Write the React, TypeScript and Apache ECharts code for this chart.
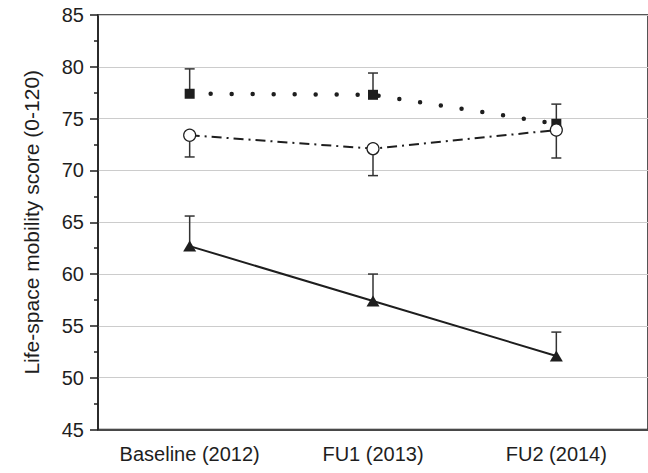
import React, { useEffect, useRef } from "react";
import * as echarts from "echarts";

const categories = ["Baseline (2012)", "FU1 (2013)", "FU2 (2014)"];
const squareMean = [77.4, 77.3, 74.5];
const squareUpper = [79.8, 79.4, 76.4];
const circleMean = [73.4, 72.1, 73.9];
const circleLower = [71.3, 69.5, 71.2];
const triangleMean = [62.7, 57.4, 52.1];
const triangleUpper = [65.6, 60.0, 54.4];
const yTicks = { min: 45, max: 85, interval: 5 };

const FONT = "Liberation Sans, Arial, sans-serif";
const INK = "#1e1e1e";

function errorSeries(mean: number[], end: number[]) {
  return {
    type: "custom",
    z: 1,
    silent: true,
    data: mean.map((m, i) => [i, m, end[i]]),
    renderItem: (_params: any, api: any) => {
      const p0 = api.coord([api.value(0), api.value(1)]);
      const p1 = api.coord([api.value(0), api.value(2)]);
      const hw = 5;
      return {
        type: "group",
        children: [
          {
            type: "line",
            shape: { x1: p0[0], y1: p0[1], x2: p1[0], y2: p1[1] },
            style: { stroke: "#333", lineWidth: 1.5 },
          },
          {
            type: "line",
            shape: { x1: p1[0] - hw, y1: p1[1], x2: p1[0] + hw, y2: p1[1] },
            style: { stroke: "#333", lineWidth: 1.5 },
          },
        ],
      };
    },
  };
}

export default function App() {
  const ref = useRef<HTMLDivElement>(null);
  useEffect(() => {
    document.body.style.margin = "0";
    const chart = echarts.init(ref.current!, null, { renderer: "svg" });
    chart.setOption({
      animation: false,
      backgroundColor: "#fff",
      grid: {
        left: 98,
        top: 15,
        right: -12,
        bottom: 43.5,
        show: true,
        borderColor: INK,
        borderWidth: 1.5,
        backgroundColor: "transparent",
      },
      xAxis: [
        {
          type: "category",
          data: categories,
          boundaryGap: true,
          position: "bottom",
          axisLine: { lineStyle: { color: INK, width: 1.5 } },
          axisTick: { alignWithLabel: true, length: 7, lineStyle: { color: INK, width: 1.5 } },
          axisLabel: { color: INK, fontSize: 20, fontFamily: FONT, margin: 14 },
          splitLine: { show: false },
        },
        {
          type: "category",
          data: categories,
          boundaryGap: true,
          position: "bottom",
          offset: 0,
          axisLine: { show: false },
          axisTick: { length: 4, lineStyle: { color: INK, width: 1.5 } },
          axisLabel: { show: false },
          splitLine: { show: false },
        },
      ],
      yAxis: {
        type: "value",
        min: yTicks.min,
        max: yTicks.max,
        interval: yTicks.interval,
        name: "Life-space mobility score (0-120)",
        nameLocation: "middle",
        nameGap: 56,
        nameTextStyle: { color: INK, fontSize: 21, fontFamily: FONT },
        axisLine: { show: true, lineStyle: { color: INK, width: 1.5 } },
        axisTick: { show: true, length: 8, lineStyle: { color: INK, width: 1.5 } },
        minorTick: { show: true, splitNumber: 2, length: 4, lineStyle: { color: INK, width: 1.5 } },
        axisLabel: { color: INK, fontSize: 20, fontFamily: FONT, margin: 14 },
        splitLine: { show: true, lineStyle: { color: "#cccccc", width: 1 } },
      },
      series: [
        errorSeries(squareMean, squareUpper),
        errorSeries(circleMean, circleLower),
        errorSeries(triangleMean, triangleUpper),
        {
          type: "line",
          data: squareMean,
          z: 3,
          symbol: "rect",
          symbolSize: 10,
          itemStyle: { color: INK },
          lineStyle: { color: INK, width: 4.5, type: [0, 21], cap: "round" },
        },
        {
          type: "line",
          data: circleMean,
          z: 3,
          symbol: "circle",
          symbolSize: 12,
          showAllSymbol: true,
          itemStyle: { color: "#fff", borderColor: INK, borderWidth: 1.2 },
          lineStyle: { color: INK, width: 2, type: [10, 5, 2, 5] },
        },
        {
          type: "line",
          data: triangleMean,
          z: 3,
          symbol: "triangle",
          symbolSize: [13, 11],
          itemStyle: { color: INK },
          lineStyle: { color: INK, width: 2 },
        },
      ],
    });
    return () => chart.dispose();
  }, []);
  return <div ref={ref} style={{ width: 648, height: 473 }} />;
}
